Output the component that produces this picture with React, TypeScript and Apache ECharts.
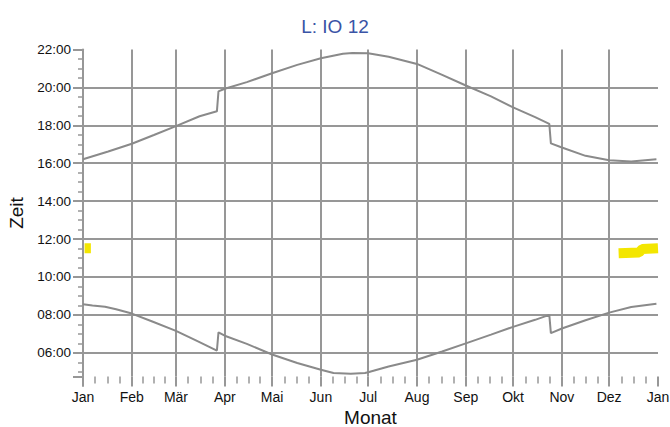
import { useEffect, useRef } from 'react';
import * as echarts from 'echarts';

const TITLE = 'L: IO 12';
const X_NAME = 'Monat';
const Y_NAME = 'Zeit';
const MONTH_LABELS = ['Jan', 'Feb', 'Mär', 'Apr', 'Mai', 'Jun', 'Jul', 'Aug', 'Sep', 'Okt', 'Nov', 'Dez'];
const X_START = '2021-01-01';
const X_END = '2022-01-01';
const Y_MIN = 4.75;
const Y_MAX = 22;

const SUNSET_DATES = [
  '2021-01-01', '2021-01-17', '2021-02-01', '2021-02-15', '2021-03-01', '2021-03-16', '2021-03-27',
  '2021-03-28', '2021-04-01', '2021-04-15', '2021-05-01', '2021-05-17', '2021-06-01', '2021-06-15',
  '2021-06-21', '2021-07-01', '2021-07-14', '2021-08-01', '2021-08-17', '2021-09-01', '2021-09-17',
  '2021-10-01', '2021-10-15', '2021-10-24', '2021-10-25', '2021-11-01', '2021-11-16', '2021-12-01',
  '2021-12-15', '2021-12-31',
];
const SUNSET_TIMES = [
  16.21, 16.62, 17.03, 17.49, 17.96, 18.48, 18.74,
  19.79, 19.93, 20.28, 20.75, 21.19, 21.54, 21.78,
  21.82, 21.8, 21.62, 21.24, 20.66, 20.1, 19.53,
  18.95, 18.43, 18.08, 17.05, 16.83, 16.39, 16.16,
  16.09, 16.21,
];

const SUNRISE_DATES = [
  '2021-01-01', '2021-01-07', '2021-01-15', '2021-01-22', '2021-02-01', '2021-02-14', '2021-03-01',
  '2021-03-14', '2021-03-27', '2021-03-28', '2021-04-01', '2021-04-15', '2021-05-01', '2021-05-17',
  '2021-06-01', '2021-06-09', '2021-06-20', '2021-06-29', '2021-07-01', '2021-07-14', '2021-08-01',
  '2021-08-17', '2021-09-01', '2021-09-17', '2021-10-01', '2021-10-15', '2021-10-24', '2021-10-25',
  '2021-11-01', '2021-11-16', '2021-12-01', '2021-12-15', '2021-12-31',
];
const SUNRISE_TIMES = [
  8.56, 8.49, 8.43, 8.3, 8.07, 7.65, 7.16,
  6.64, 6.12, 7.08, 6.9, 6.47, 5.91, 5.46,
  5.11, 4.93, 4.9, 4.93, 4.97, 5.28, 5.63,
  6.07, 6.5, 6.96, 7.37, 7.74, 8.0, 7.04,
  7.28, 7.72, 8.12, 8.42, 8.59,
];

const MARK_JAN_DATES = ['2021-01-02', '2021-01-06'];
const MARK_JAN_TIMES = [11.52, 11.52];
const MARK_DEC_DATES = ['2021-12-07', '2021-12-20', '2021-12-22', '2022-01-01'];
const MARK_DEC_TIMES = [11.25, 11.29, 11.48, 11.52];

const ts = (s: string) => {
  const [y, m, d] = s.split('-').map(Number);
  return new Date(y, m - 1, d).getTime();
};
const pairs = (dates: string[], vals: number[]) => dates.map((d, i) => [ts(d), vals[i]]);
const pad = (n: number) => (n < 10 ? '0' : '') + n;
const hhmm = (v: number) => {
  const h = Math.floor(v + 1e-6);
  const m = Math.round((v - h) * 60);
  return pad(h) + ':' + pad(m);
};

const GRID = '#979797';
const FONT = 'Liberation Sans, Arial, sans-serif';
const TEXT = '#111111';

export default function App() {
  const ref = useRef<HTMLDivElement>(null);
  useEffect(() => {
    if (!ref.current) return;
    const chart = echarts.init(ref.current, null, { renderer: 'svg' });
    chart.setOption({
      animation: false,
      backgroundColor: '#ffffff',
      textStyle: { fontFamily: FONT },
      title: {
        text: TITLE,
        left: 'center',
        top: 12,
        textStyle: { color: '#3a54a6', fontSize: 19, fontWeight: 'normal', fontFamily: FONT },
      },
      grid: { left: 83, right: 12, top: 49.5, bottom: 50.5, containLabel: false, outerBoundsMode: 'none' },
      xAxis: {
        type: 'time',
        min: ts(X_START),
        max: ts(X_END),
        splitNumber: 12,
        maxInterval: 31 * 86400000,
        minInterval: 28 * 86400000,
        name: X_NAME,
        nameLocation: 'middle',
        nameGap: 30,
        nameTextStyle: { fontSize: 19, color: TEXT, fontFamily: FONT },
        axisLine: { show: false },
        axisTick: { show: true, length: 10, lineStyle: { color: GRID, width: 2 } },
        minorTick: { show: true, splitNumber: 4, length: 7, lineStyle: { color: GRID, width: 1.5 } },
        axisLabel: {
          margin: 13,
          fontSize: 14,
          color: TEXT,
          fontFamily: FONT,
          showMinLabel: true,
          showMaxLabel: true,
          hideOverlap: false,
          formatter: (v: number) => MONTH_LABELS[new Date(v).getMonth()],
        },
        splitLine: { show: true, showMinLine: false, showMaxLine: false, lineStyle: { color: GRID, width: 2 } },
      },
      yAxis: {
        type: 'value',
        min: Y_MIN,
        max: Y_MAX,
        splitNumber: 8,
        name: Y_NAME,
        nameLocation: 'middle',
        nameGap: 49,
        nameTextStyle: { fontSize: 19, color: TEXT, fontFamily: FONT },
        axisLine: { show: true, lineStyle: { color: GRID, width: 2 } },
        axisTick: { show: true, length: 10, lineStyle: { color: GRID, width: 2 } },
        minorTick: { show: true, splitNumber: 4, length: 5, lineStyle: { color: GRID, width: 1.5 } },
        axisLabel: {
          margin: 12,
          fontSize: 13.5,
          color: TEXT,
          fontFamily: FONT,
          showMinLabel: false,
          formatter: (v: number) => hhmm(v),
        },
        splitLine: { show: true, showMinLine: false, showMaxLine: false, lineStyle: { color: GRID, width: 2 } },
      },
      series: [
        {
          type: 'line',
          data: pairs(SUNSET_DATES, SUNSET_TIMES),
          showSymbol: false,
          lineStyle: { color: '#8a8a8a', width: 2 },
          itemStyle: { color: '#8a8a8a' },
        },
        {
          type: 'line',
          data: pairs(SUNRISE_DATES, SUNRISE_TIMES),
          showSymbol: false,
          lineStyle: { color: '#8a8a8a', width: 2 },
          itemStyle: { color: '#8a8a8a' },
        },
        {
          type: 'line',
          data: pairs(MARK_JAN_DATES, MARK_JAN_TIMES),
          showSymbol: false,
          z: 5,
          lineStyle: { color: '#f3e600', width: 10, cap: 'butt' },
          itemStyle: { color: '#f3e600' },
        },
        {
          type: 'line',
          data: pairs(MARK_DEC_DATES, MARK_DEC_TIMES),
          showSymbol: false,
          z: 5,
          lineStyle: { color: '#f3e600', width: 10, cap: 'butt' },
          itemStyle: { color: '#f3e600' },
        },
      ],
    });
    return () => chart.dispose();
  }, []);
  return <div ref={ref} style={{ position: 'fixed', left: 0, top: 0, width: 670, height: 427 }} />;
}
